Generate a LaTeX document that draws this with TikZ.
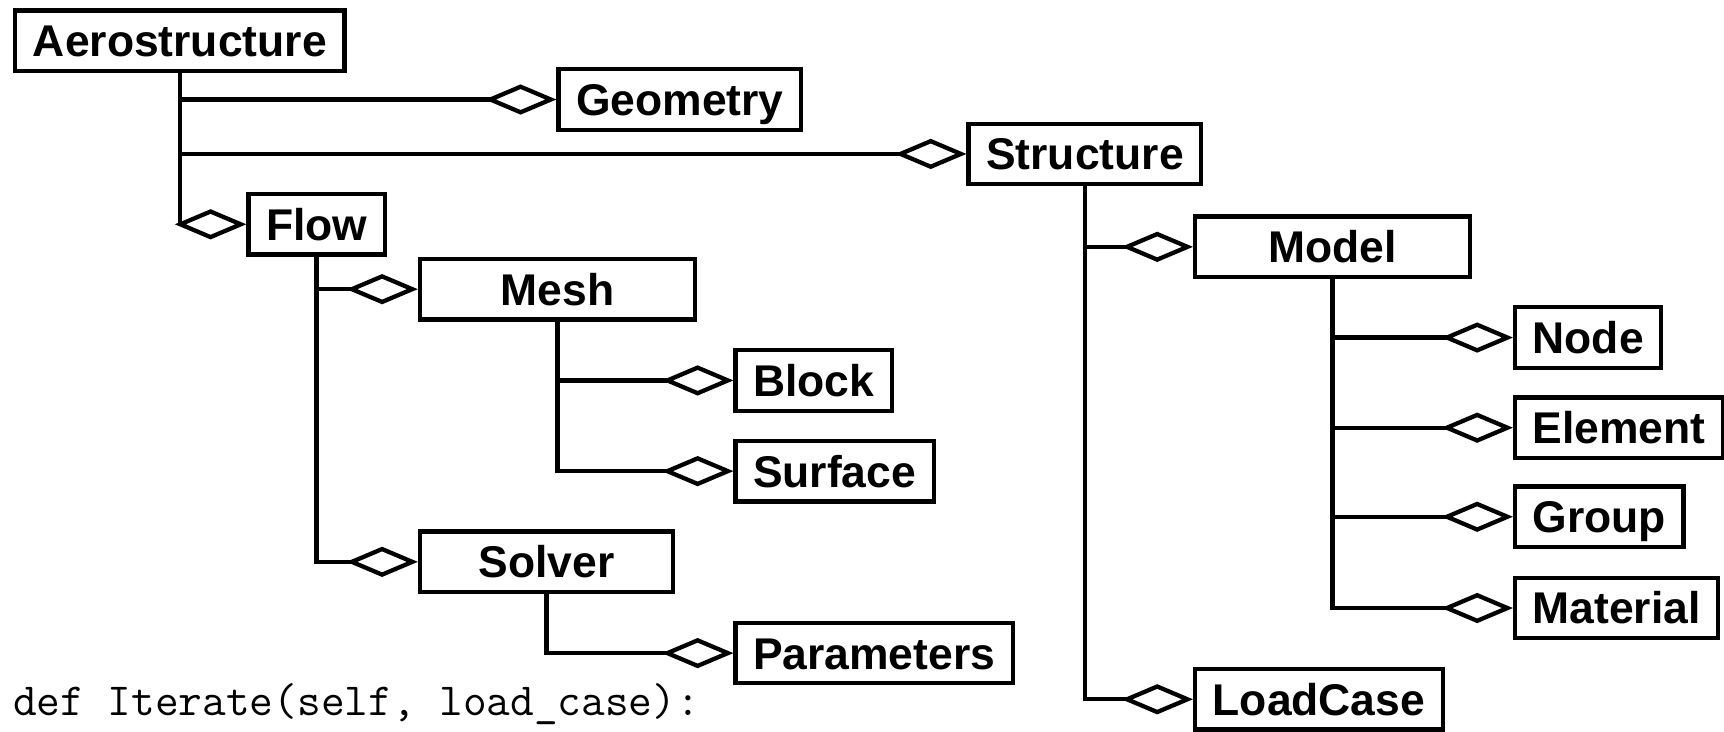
\documentclass[tikz,border=0pt]{standalone}
\usepackage{fontspec}
\setmainfont{Liberation Sans}
\usetikzlibrary{arrows.meta}

\begin{document}
\begin{tikzpicture}[line width=0.078cm,
   cls/.style={draw,anchor=west,font=\fontsize{23}{28}\selectfont\bfseries,
     minimum height=1.1cm,inner xsep=0.32cm,text height=0.58cm,text depth=0cm},
   agg/.style={-{Diamond[open,length=1.3cm,width=0.55cm]}}]
  \useasboundingbox (0,0) rectangle (31.36,-13.3);
  % classes
  \node[cls] (aero)   at (0.24,-0.74)   {Aerostructure};
  \node[cls] (geom)   at (10.12,-1.81)  {Geometry};
  \node[cls] (struct) at (17.58,-2.80)  {Structure};
  \node[cls] (flow)   at (4.48,-4.08)   {Flow};
  \node[cls,minimum width=5.0cm] (mesh)   at (7.60,-5.26)  {Mesh};
  \node[cls] (block)  at (13.34,-6.92)  {Block};
  \node[cls] (surf)   at (13.34,-8.57)  {Surface};
  \node[cls,minimum width=4.6cm] (solver) at (7.60,-10.22) {Solver};
  \node[cls] (param)  at (13.34,-11.88) {Parameters};
  \node[cls,minimum width=5.0cm] (model)  at (21.70,-4.49) {Model};
  \node[cls] (fenode) at (27.52,-6.14)  {Node};
  \node[cls] (elem)   at (27.52,-7.78)  {Element};
  \node[cls] (group)  at (27.52,-9.40)  {Group};
  \node[cls] (mat)    at (27.52,-11.06) {Material};
  \node[cls] (load)   at (21.70,-12.72) {LoadCase};
  % code line
  \node[anchor=base west,inner sep=0pt,font=\fontsize{23.8}{28}\selectfont\ttfamily] (code)
    at (0.2,-13.02) {def Iterate(self, load\_case):};
  % aggregation links
  \draw[agg] (aero.south) |- (geom.west);
  \draw[agg] (aero.south) |- (struct.west);
  \draw[agg] (aero.south) |- (flow.west);
  \draw[agg] (flow.south) |- (mesh.west);
  \draw[agg] (flow.south) |- (solver.west);
  \draw[agg] (mesh.south) |- (block.west);
  \draw[agg] (mesh.south) |- (surf.west);
  \draw[agg] (solver.south) |- (param.west);
  \draw[agg] (struct.south) |- (model.west);
  \draw[agg] (struct.south) |- (load.west);
  \draw[agg] (model.south) |- (fenode.west);
  \draw[agg] (model.south) |- (elem.west);
  \draw[agg] (model.south) |- (group.west);
  \draw[agg] (model.south) |- (mat.west);
\end{tikzpicture}
\end{document}
